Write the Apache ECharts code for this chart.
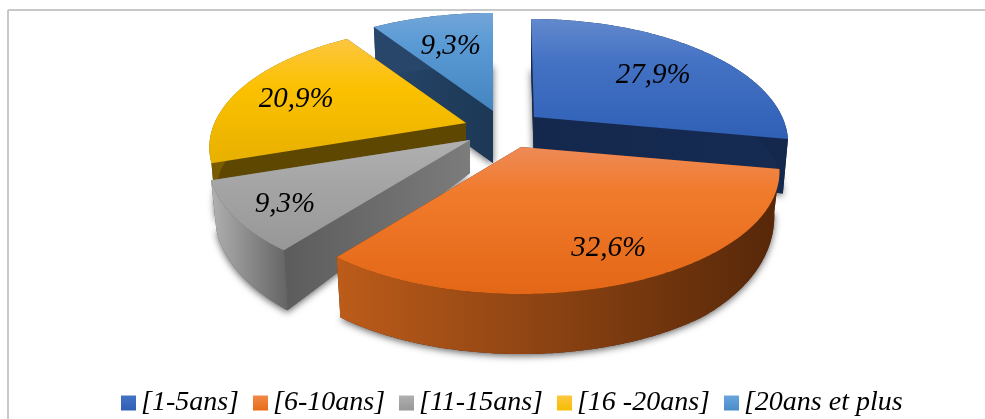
<!DOCTYPE html>
<html>
<head>
<meta charset="utf-8">
<style>html,body{margin:0;padding:0;background:#fff}#chart{width:985px;height:419px}</style>
<script src="https://cdn.jsdelivr.net/npm/echarts@6/dist/echarts.min.js"></script>
</head>
<body>
<div id="chart"></div>
<script>
// Seniority bands and their shares (percent)
const categories = ['[1-5ans]', '[6-10ans]', '[11-15ans]', '[16 -20ans]', '[20ans et plus'];
const shares = [27.9, 32.6, 9.3, 20.9, 9.3];

// Perspective pie geometry
const pieCenter = [498, 127];
const radiusX = 252, radiusY = 117.6, tilt = 0.2;
const explodeX = [36, 23, -28, -32, -5];
const explodeY = [-10, 20, 13, -4, -16];
const widthScale = [0.985, 1.005, 1.015, 0.998, 1];
const lean = [0.03, 0, 0, 0, 0];
const baseDepth = [50, 29, 33, 50, 52];
const frontDepth = 60;
const labelReachX = [0.714, 0.79, 0.785, 0.76, 0.694];
const labelReachY = [0.64, 0.74, 0.82, 0.69, 0.7];
const stackOrder = [2, 5, 4, 3, 1];

// Slice paint: lit top face, radial cut face and rim face
const vgrad = stops => new echarts.graphic.LinearGradient(0, 0, 0, 1, stops.map(c => ({offset: c[0], color: c[1]})));
const hgrad = (a, b) => new echarts.graphic.LinearGradient(0, 0, 1, 0, [{offset: 0, color: a}, {offset: 1, color: b}]);
const topFaces = [
  [[0, '#6289cd'], [0.35, '#4472c4'], [1, '#2f60b6']],
  [[0, '#ee8a58'], [0.3, '#f17b2c'], [1, '#e36716']],
  [[0, '#b0b0b0'], [0.4, '#a5a5a5'], [1, '#979797']],
  [[0, '#fdc640'], [0.4, '#fbc100'], [1, '#e8b000']],
  [[0, '#72a5d8'], [0.3, '#5b9bd5'], [1, '#4484c0']]
];
const legendSwatch = [
  [[0, '#4472c4'], [1, '#2f60b6']],
  [[0, '#f18a48'], [1, '#e86c18']],
  [[0, '#b0b0b0'], [1, '#979797']],
  [[0, '#fdc640'], [1, '#f5bd00']],
  [[0, '#6aa5dc'], [1, '#4a8cc8']]
];
const cutFaces = [['#14284d', '#162b52'], ['#5a2a0a', '#5a2a0a'], ['#5c5c5c', '#7c7c7c'], ['#5e4700', '#5e4700'], ['#27466a', '#1c3855']];
const rimFaces = [['#14284d', '#14284d'], ['#bc5c1a', '#562709'], ['#b0b0b0', '#646464'], ['#7a5c00', '#7a5c00'], ['#27466a', '#27466a']];
const floorFaces = ['#14284d', '#562709', '#666666', '#5e4700', '#1c3855'];

const total = shares.reduce((a, b) => a + b, 0);
const startOf = i => shares.slice(0, i).reduce((a, b) => a + b, 0) / total * 2 * Math.PI;

function offset(i, theta) {
  const s = Math.sin(theta), c = Math.cos(theta), w = 1 + tilt * c;
  const oy = -radiusY * c / w;
  return [widthScale[i] * radiusX * s / w + lean[i] * oy, oy];
}
function depthAt(i, oy) {
  const f = Math.sqrt(Math.min(1, Math.max(0, oy) / 110));
  return baseDepth[i] + (frontDepth - baseDepth[i]) * f;
}

function renderSlice(i, value) {
  const a0 = startOf(i), a1 = a0 + value / total * 2 * Math.PI;
  const ax = pieCenter[0] + explodeX[i], ay = pieCenter[1] + explodeY[i];
  const upper = t => { const o = offset(i, t); return [ax + o[0], ay + o[1]]; };
  const lower = t => { const o = offset(i, t); return [ax + o[0] * 0.98, ay + o[1] + depthAt(i, o[1])]; };
  const apexLow = [ax, ay + baseDepth[i]];
  const steps = Math.max(8, Math.round((a1 - a0) * 90));
  const angles = [];
  for (let k = 0; k <= steps; k++) angles.push(a0 + (a1 - a0) * k / steps);
  const poly = (points, fill, extra) => ({
    type: 'polygon', shape: {points},
    style: Object.assign({fill, stroke: null}, extra || {})
  });
  const lowerArc = angles.map(lower), upperArc = angles.map(upper);
  const rimFace = upperArc.concat(lowerArc.slice().reverse());
  const cut = (t, colours) => poly([[ax, ay], upper(t), lower(t), apexLow], hgrad(colours[0], colours[1]));
  const lp = offset(i, (a0 + a1) / 2);
  return {
    type: 'group',
    children: [
      poly([apexLow].concat(lowerArc), floorFaces[i], {
        shadowBlur: 7, shadowColor: 'rgba(0,0,0,0.6)', shadowOffsetX: 0, shadowOffsetY: 2
      }),
      cut(a1, cutFaces[i]),
      cut(a0, cutFaces[i]),
      poly(rimFace, hgrad(rimFaces[i][0], rimFaces[i][1])),
      poly([[ax, ay]].concat(upperArc), vgrad(topFaces[i])),
      {
        type: 'text',
        style: {
          x: ax + lp[0] * labelReachX[i], y: ay + lp[1] * labelReachY[i] + 1.5,
          text: value.toFixed(1).replace('.', ',') + '%',
          fontFamily: '"Liberation Serif"', fontStyle: 'italic', fontSize: 29,
          fill: '#000', align: 'center', verticalAlign: 'middle'
        }
      }
    ]
  };
}

const chart = echarts.init(document.getElementById('chart'), null, {renderer: 'canvas'});
chart.setOption({
  animation: false,
  backgroundColor: '#ffffff',
  graphic: [
    {type: 'line', shape: {x1: 8, y1: 10, x2: 985, y2: 10}, style: {stroke: '#c8c8c8', lineWidth: 2}},
    {type: 'line', shape: {x1: 8, y1: 10, x2: 8, y2: 419}, style: {stroke: '#c8c8c8', lineWidth: 2}}
  ],
  legend: {
    left: 116, top: 384,
    itemWidth: 15, itemHeight: 15, itemGap: 14,
    icon: 'rect',
    textStyle: {fontFamily: '"Liberation Serif"', fontStyle: 'italic', fontSize: 28, color: '#000'},
    data: categories.map((name, i) => ({name, itemStyle: {color: vgrad(legendSwatch[i])}}))
  },
  series: categories.map((name, i) => ({
    type: 'custom',
    name,
    z: stackOrder[i],
    coordinateSystem: 'none',
    itemStyle: {color: topFaces[i][1][1]},
    data: [[shares[i]]],
    renderItem: (params, api) => renderSlice(i, api.value(0))
  }))
});
</script>
</body>
</html>
